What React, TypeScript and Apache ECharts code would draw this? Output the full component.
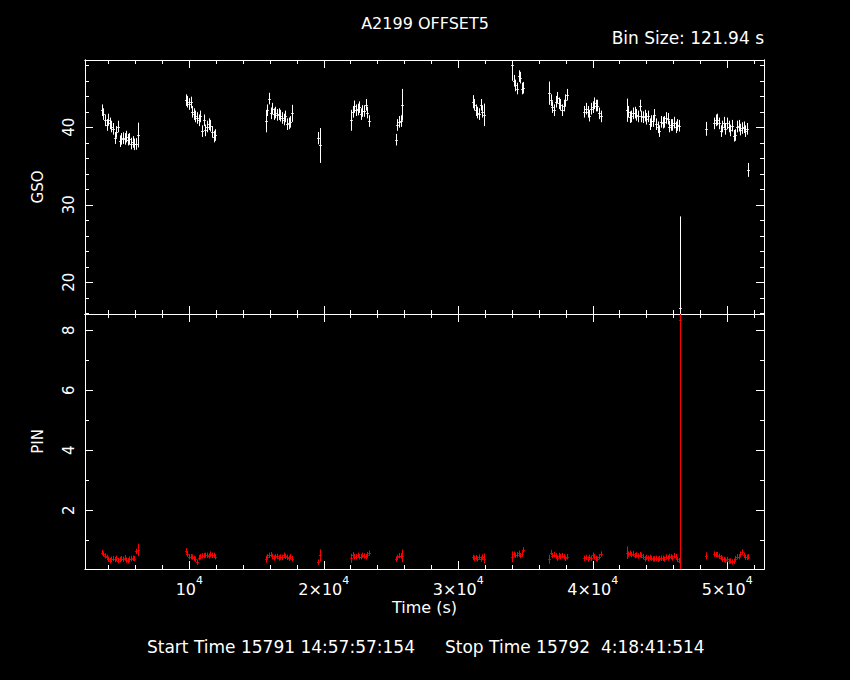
import React, { useEffect, useRef } from 'react';
import * as echarts from 'echarts';

// ---------------- data ----------------
const BIN_SIZE = 121.94; // s
const X_MIN = 2245;
const X_MAX = 52729;
const GSO_MIN = 15.91;
const GSO_MAX = 48.68;
const PIN_MIN = 0.043;
const PIN_MAX = 8.543;

const X_MAJOR = [10000, 20000, 30000, 40000, 50000];
const X_MINOR = [4000, 6000, 8000, 12000, 14000, 16000, 18000, 22000, 24000, 26000, 28000, 32000, 34000, 36000, 38000, 42000, 44000, 46000, 48000, 52000];
const GSO_MAJOR = [20, 30, 40];
const GSO_MINOR = [16, 18, 22, 24, 26, 28, 32, 34, 36, 38, 42, 44, 46, 48];
const PIN_MAJOR = [2, 4, 6, 8];
const PIN_MINOR = [1, 3, 5, 7];

// start time (s) of each continuous block of bins
const SEG_START = [3480, 9727, 15675, 19590, 22020, 25340, 31060, 33990, 36740, 39370, 42510, 46480, 48390, 49010];

const GSO_RATE = [
  [42.2, 41.7, 40.9, 40.3, 41.0, 40.5, 40.1, 39.8, 38.6, 39.4, 40.1, 38.2, 38.5, 38.6, 38.5, 38.8, 38.4, 38.5, 37.9, 38.1, 37.8, 37.85, 39.0],
  [43.5, 43.3, 43.0, 43.2, 42.0, 41.7, 41.4, 41.2, 40.9, 41.4, 39.5, 40.9, 39.6, 40.1, 40.4, 40.2, 39.4, 38.8, 39.0],
  [40.8, 42.2, 43.7, 41.8, 42.4, 41.7, 41.9, 41.6, 41.7, 41.5, 41.2, 41.0, 41.4, 40.4, 40.5, 40.7, 41.8],
  [38.6, 37.65],
  [40.9, 42.0, 42.7, 42.2, 42.3, 42.6, 41.7, 42.1, 42.1, 42.9, 41.9, 40.8],
  [38.4, 40.3, 40.7, 40.8, 42.9],
  [43.3, 42.9, 42.2, 41.9, 41.7, 42.9, 42.0, 41.6],
  [48.0, 46.0, 45.4, 45.0, 46.6, 46.4, 45.0, 45.1],
  [44.4, 43.5, 42.6, 42.2, 43.3, 43.8, 43.1, 42.9, 42.2, 42.8, 43.5, 44.2],
  [42.0, 42.4, 42.0, 41.5, 42.4, 42.6, 43.1, 42.8, 42.8, 41.8, 41.4],
  [42.2, 42.0, 41.3, 41.4, 41.8, 41.9, 41.6, 41.4, 42.8, 41.4, 41.3, 41.5, 41.1, 41.4, 40.4, 40.8, 40.8, 41.6, 40.4, 40.0, 39.5, 40.7, 40.6, 40.7, 41.2, 41.1, 40.1, 40.3, 40.3, 40.6, 40.0, 40.3, 40.2],
  [16.7],
  [39.8],
  [40.5, 40.9, 41.0, 40.5, 39.5, 40.1, 40.6, 39.8, 40.5, 40.1, 39.6, 40.2, 38.9, 39.0, 40.1, 40.2, 39.7, 39.9, 40.0, 39.5, 39.8, 34.5],
];

const PIN_RATE = [
  [0.59, 0.54, 0.48, 0.43, 0.37, 0.32, 0.37, 0.39, 0.36, 0.40, 0.32, 0.36, 0.39, 0.37, 0.42, 0.34, 0.32, 0.37, 0.39, 0.40, 0.39, 0.63, 0.68],
  [0.65, 0.54, 0.45, 0.45, 0.44, 0.40, 0.37, 0.27, 0.42, 0.45, 0.48, 0.49, 0.50, 0.50, 0.48, 0.54, 0.50, 0.50, 0.45],
  [0.37, 0.45, 0.50, 0.52, 0.46, 0.41, 0.45, 0.46, 0.41, 0.44, 0.43, 0.50, 0.46, 0.43, 0.40, 0.45, 0.39],
  [0.27, 0.50],
  [0.40, 0.52, 0.45, 0.45, 0.50, 0.45, 0.45, 0.50, 0.48, 0.45, 0.52, 0.57],
  [0.37, 0.43, 0.49, 0.48, 0.48],
  [0.43, 0.40, 0.42, 0.38, 0.44, 0.37, 0.44, 0.39],
  [0.45, 0.54, 0.50, 0.52, 0.57, 0.49, 0.54, 0.68],
  [0.37, 0.59, 0.49, 0.52, 0.48, 0.41, 0.49, 0.45, 0.49, 0.45, 0.40, 0.45],
  [0.40, 0.43, 0.37, 0.43, 0.40, 0.50, 0.45, 0.39, 0.38, 0.45, 0.54],
  [0.59, 0.54, 0.57, 0.52, 0.55, 0.49, 0.51, 0.48, 0.52, 0.50, 0.45, 0.38, 0.43, 0.40, 0.43, 0.40, 0.38, 0.38, 0.40, 0.37, 0.39, 0.40, 0.40, 0.37, 0.44, 0.41, 0.46, 0.45, 0.41, 0.49, 0.45, 0.36, 0.32],
  [8.34],
  [0.48],
  [0.54, 0.52, 0.52, 0.47, 0.42, 0.37, 0.36, 0.34, 0.36, 0.30, 0.31, 0.28, 0.30, 0.39, 0.45, 0.45, 0.54, 0.61, 0.50, 0.43, 0.43, 0.45],
];

// typical 1-sigma errors, with the bins whose error is larger: [segment, bin, error]
const GSO_ERR = 0.75;
const PIN_ERR = 0.09;
const GSO_ERR_LARGE = [
  [0, 22, 1.6], [2, 0, 1.45], [2, 16, 1.1], [3, 0, 0.8], [3, 1, 2.25], [4, 0, 1.35], [5, 4, 2.05],
  [6, 0, 0.85], [6, 7, 1.45], [7, 0, 2.0], [8, 0, 1.5], [10, 0, 1.5], [11, 0, 11.8], [12, 0, 0.9], [13, 21, 0.9],
];
const PIN_ERR_LARGE = [
  [0, 22, 0.21], [2, 0, 0.12], [3, 1, 0.2], [4, 0, 0.15], [5, 4, 0.21], [6, 7, 0.17],
  [7, 0, 0.18], [8, 0, 0.15], [10, 0, 0.21], [11, 0, 8.4], [12, 0, 0.12],
];

const TITLE = 'A2199 OFFSET5';
const BIN_TEXT = 'Bin Size: 121.94 s';
const START_TEXT = 'Start Time 15791 14:57:57:154';
const STOP_TEXT = 'Stop Time 15792  4:18:41:514';

// ---------------- helpers ----------------
const FONT = 'DejaVu Sans';
const WHITE = '#ffffff';
const RED = '#ff0000';

function buildData(rates: number[][], defErr: number, large: number[][]) {
  const out: number[][] = [];
  rates.forEach((seg, s) => {
    seg.forEach((v, i) => {
      const hit = large.find((l) => l[0] === s && l[1] === i);
      out.push([SEG_START[s] + i * BIN_SIZE, v, hit ? hit[2] : defErr]);
    });
  });
  return out;
}

function makeRender(color: string) {
  return (params: any, api: any) => {
    const t = api.value(0);
    const v = api.value(1);
    const e = api.value(2);
    const c = api.coord([t, v]);
    const hi = api.coord([t, v + e]);
    const lo = api.coord([t, v - e]);
    const cs = params.coordSys;
    const clampY = (y: number) => Math.max(cs.y, Math.min(cs.y + cs.height, y));
    const x = Math.round(c[0]) + 0.5;
    const hw = Math.max(api.size([BIN_SIZE, 0])[0] / 2, 1.3);
    const children: any[] = [
      {
        type: 'line',
        shape: { x1: x, y1: clampY(hi[1]), x2: x, y2: clampY(lo[1]) },
        style: { stroke: color, lineWidth: 1 },
      },
    ];
    if (c[1] >= cs.y && c[1] <= cs.y + cs.height) {
      const y = Math.round(c[1]) + 0.5;
      children.push({
        type: 'line',
        shape: { x1: x - hw, y1: y, x2: x + hw, y2: y },
        style: { stroke: color, lineWidth: 1 },
      });
    }
    return { type: 'group', children };
  };
}

const lineStyle = { color: WHITE, width: 1 };

function xAxisDef(grid: number, position: string, ticks: number[], len: number, labels: boolean, name?: string) {
  return {
    type: 'value',
    gridIndex: grid,
    position,
    min: X_MIN,
    max: X_MAX,
    axisLine: { show: true, onZero: false, lineStyle },
    axisTick: { show: true, inside: true, length: len, customValues: ticks, lineStyle },
    axisLabel: labels
      ? {
          show: true,
          customValues: X_MAJOR,
          margin: 6,
          color: WHITE,
          fontFamily: FONT,
          formatter: (v: number) => (v === 10000 ? '{m|10}{s|4}' : '{m|' + v / 10000 + '×10}{s|4}'),
          rich: {
            m: { fontSize: 16, color: WHITE, fontFamily: FONT, verticalAlign: 'bottom', lineHeight: 22 },
            s: { fontSize: 11, color: WHITE, fontFamily: FONT, verticalAlign: 'top', lineHeight: 12 },
          },
        }
      : { show: false },
    splitLine: { show: false },
    name: name || '',
    nameLocation: 'middle',
    nameGap: 30,
    nameTextStyle: { color: WHITE, fontSize: 16, fontFamily: FONT },
  };
}

function yAxisDef(grid: number, position: string, min: number, max: number, ticks: number[], len: number, labels: number[] | null, name?: string) {
  return {
    type: 'value',
    gridIndex: grid,
    position,
    min,
    max,
    axisLine: { show: true, onZero: false, lineStyle },
    axisTick: { show: true, inside: true, length: len, customValues: ticks, lineStyle },
    axisLabel: labels
      ? { show: true, customValues: labels, rotate: 90, margin: 9, color: WHITE, fontSize: 15, fontFamily: FONT }
      : { show: false },
    splitLine: { show: false },
    name: name || '',
    nameLocation: 'middle',
    nameRotate: 90,
    nameGap: 40,
    nameTextStyle: { color: WHITE, fontSize: 15, fontFamily: FONT },
  };
}

export default function App() {
  const ref = useRef<HTMLDivElement>(null);

  useEffect(() => {
    if (!ref.current) return;
    const chart = echarts.init(ref.current, null, { renderer: 'svg' });
    const gsoData = buildData(GSO_RATE, GSO_ERR, GSO_ERR_LARGE);
    const pinData = buildData(PIN_RATE, PIN_ERR, PIN_ERR_LARGE);

    const textStyle = { color: WHITE, fontSize: 16, fontWeight: 'normal' as const, fontFamily: FONT };
    const wideText = { ...textStyle, fontSize: 17 };

    chart.setOption({
      animation: false,
      backgroundColor: '#000000',
      title: [
        { text: TITLE, left: 'center', top: 15, padding: 0, textStyle },
        { text: BIN_TEXT, right: 86, top: 29, padding: 0, textStyle: wideText },
        { text: START_TEXT, left: 147, top: 638, padding: 0, textStyle: wideText },
        { text: STOP_TEXT, left: 445, top: 638, padding: 0, textStyle: wideText },
      ],
      grid: [
        { left: 85, top: 60, width: 679, height: 254 },
        { left: 85, top: 314, width: 679, height: 255 },
      ],
      xAxis: [
        xAxisDef(0, 'bottom', X_MAJOR, 8, false),
        xAxisDef(0, 'bottom', X_MINOR, 4, false),
        xAxisDef(0, 'top', X_MAJOR, 8, false),
        xAxisDef(0, 'top', X_MINOR, 4, false),
        xAxisDef(1, 'bottom', X_MAJOR, 8, true, 'Time (s)'),
        xAxisDef(1, 'bottom', X_MINOR, 4, false),
        xAxisDef(1, 'top', X_MAJOR, 8, false),
        xAxisDef(1, 'top', X_MINOR, 4, false),
      ],
      yAxis: [
        yAxisDef(0, 'left', GSO_MIN, GSO_MAX, GSO_MAJOR, 8, GSO_MAJOR, 'GSO'),
        yAxisDef(0, 'left', GSO_MIN, GSO_MAX, GSO_MINOR, 4, null),
        yAxisDef(0, 'right', GSO_MIN, GSO_MAX, GSO_MAJOR, 8, null),
        yAxisDef(0, 'right', GSO_MIN, GSO_MAX, GSO_MINOR, 4, null),
        yAxisDef(1, 'left', PIN_MIN, PIN_MAX, PIN_MAJOR, 8, PIN_MAJOR, 'PIN'),
        yAxisDef(1, 'left', PIN_MIN, PIN_MAX, PIN_MINOR, 4, null),
        yAxisDef(1, 'right', PIN_MIN, PIN_MAX, PIN_MAJOR, 8, null),
        yAxisDef(1, 'right', PIN_MIN, PIN_MAX, PIN_MINOR, 4, null),
      ],
      series: [
        {
          type: 'custom',
          name: 'GSO',
          xAxisIndex: 0,
          yAxisIndex: 0,
          renderItem: makeRender(WHITE),
          data: gsoData,
          encode: { x: 0, y: 1 },
        },
        {
          type: 'custom',
          name: 'PIN',
          xAxisIndex: 4,
          yAxisIndex: 4,
          renderItem: makeRender(RED),
          data: pinData,
          encode: { x: 0, y: 1 },
        },
      ],
    });
    return () => chart.dispose();
  }, []);

  return (
    <div
      ref={ref}
      style={{ position: 'absolute', left: 0, top: 0, width: 850, height: 680, background: '#000' }}
    />
  );
}
